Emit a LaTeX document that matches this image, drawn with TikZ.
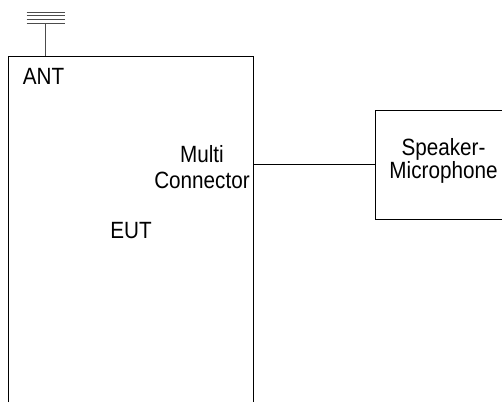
\documentclass[tikz,border=0pt]{standalone}
\usepackage{fontspec}
\setmainfont[FakeStretch=0.88]{Liberation Sans}
\begin{document}
\begin{tikzpicture}[x=1pt,y=-1pt,
  wire/.style={line width=1pt,draw=black},
  antline/.style={line width=0.9pt,draw=black!70},
  lbl/.style={inner sep=0pt,font=\fontsize{23.5}{24.5}\selectfont,anchor=base}]
\useasboundingbox (0,0) rectangle (502,402);
% EUT box (open at the bottom)
\coordinate (eutBL) at (8.5,402);
\coordinate (eutTL) at (8.5,56);
\coordinate (eutTR) at (253.3,56);
\coordinate (eutBR) at (253.3,402);
\draw[wire] (eutBL) -- (eutTL) -- (eutTR) -- (eutBR);
% Speaker-microphone box (cut at right edge)
\coordinate (spkTR) at (503,110);
\coordinate (spkTL) at (375,110);
\coordinate (spkBL) at (375,219.5);
\coordinate (spkBR) at (503,219.5);
\draw[wire] (spkTR) -- (spkTL) -- (spkBL) -- (spkBR);
% connector
\coordinate (mc) at (253.3,164.5);
\coordinate (sm) at (375,164.5);
\draw[wire] (mc) -- (sm);
% antenna
\coordinate (antB) at (45.7,56);
\coordinate (antT) at (45.7,23.3);
\draw[antline] (antB) -- (antT);
\foreach \yy in {12.3,15.7,19.3,23.3}
  \draw[antline] (26.7,\yy) -- (65,\yy);
% labels
\node[lbl,anchor=base west] (ant) at (22.7,84) {ANT};
\node[lbl] (multi) at (202,162.7) {Multi};
\node[lbl] (conn) at (202,188) {Connector};
\node[lbl] (eut) at (131,238.3) {EUT};
\node[lbl] (spk) at (443.5,155) {Speaker-};
\node[lbl] (mic) at (443.5,178.5) {Microphone};
\end{tikzpicture}
\end{document}
